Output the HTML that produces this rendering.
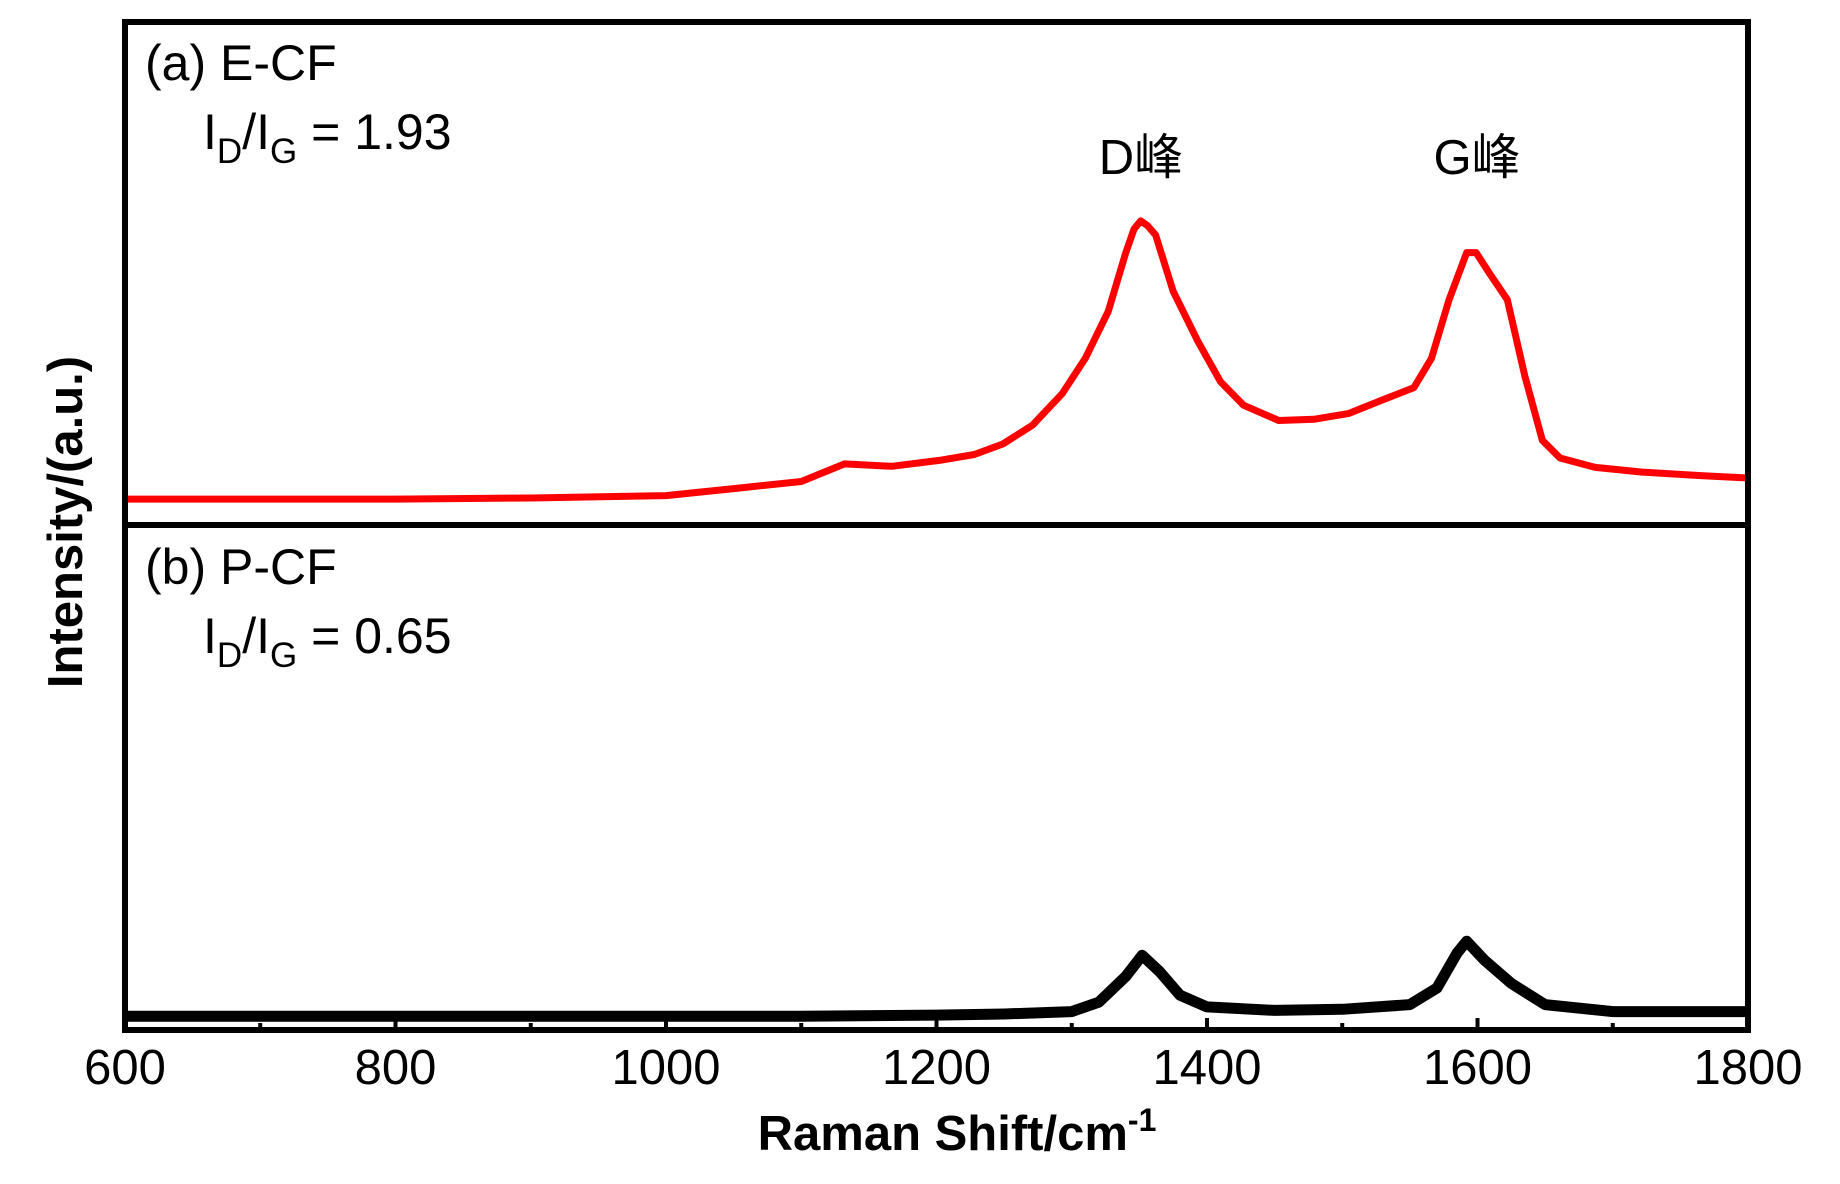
<!DOCTYPE html>
<html><head><meta charset="utf-8"><style>
html,body{margin:0;padding:0;background:#fff}
svg{display:block}
text{font-family:"Liberation Sans","Noto Sans CJK SC",sans-serif;fill:#000}
</style></head><body>
<svg id="chart" width="1840" height="1184" viewBox="0 0 1840 1184" xmlns="http://www.w3.org/2000/svg">
<g id="plot"></g>
<g id="frame"></g>
<text x="145" y="80" font-size="50">(a) E-CF</text>
<text x="203" y="149" font-size="50">I<tspan font-size="35" dy="14">D</tspan><tspan dy="-14">/I</tspan><tspan font-size="35" dy="14">G</tspan><tspan dy="-14"> = 1.93</tspan></text>
<text x="145" y="584" font-size="50">(b) P-CF</text>
<text x="203" y="653" font-size="50">I<tspan font-size="35" dy="14">D</tspan><tspan dy="-14">/I</tspan><tspan font-size="35" dy="14">G</tspan><tspan dy="-14"> = 0.65</tspan></text>
<text x="1141" y="174" font-size="49" text-anchor="middle">D峰</text>
<text x="1477" y="174" font-size="49" text-anchor="middle">G峰</text>
<text x="957" y="1150" font-size="49" font-weight="bold" text-anchor="middle">Raman Shift/cm<tspan font-size="32" dy="-19">-1</tspan></text>
<text transform="translate(82,522) rotate(-90)" font-size="49" font-weight="bold" text-anchor="middle">Intensity/(a.u.)</text>
</svg>
<script>
const ecfShift = [600,700,800,900,1000,1050,1100,1132,1167,1202,1228,1249,1271,1293,1310,1327,1340,1346,1351,1356,1362,1375,1393,1410,1427,1453,1479,1505,1531,1553,1566,1579,1592,1599,1609,1622,1635,1648,1661,1687,1722,1765,1800];
const ecfIntensity = [5,5,5,6,8,14,20,35,33,38,43,52,68,95,125,165,215,235,242,238,230,182,140,105,85,72,73,78,90,100,125,175,215,215,197,175,110,55,40,32,28,25,23];
const pcfShift = [600,700,800,900,1000,1100,1200,1250,1300,1320,1340,1352,1365,1380,1400,1450,1500,1550,1570,1585,1592,1605,1625,1650,1700,1800];
const pcfIntensity = [4,4,4,4,4,4,5,6,8,16,38,56,42,22,12,9,10,14,28,58,68,52,32,14,8,8];
const xTicks = [600,800,1000,1200,1400,1600,1800];
const minorTicks = [700,900,1100,1300,1500,1700];

const L=125,R=1748,T=22,MID=525,B=1030;
const NS="http://www.w3.org/2000/svg";
function xs(w){return L+(w-600)/1200*(R-L);}
function ysA(v){return 505-v*1.174;}
function ysB(v){return 1021-v*1.174;}
const plot=document.getElementById('plot');
const frame=document.getElementById('frame');
function mk(tag,attrs,parent){const e=document.createElementNS(NS,tag);for(const k in attrs)e.setAttribute(k,attrs[k]);parent.appendChild(e);return e;}
function pathOf(xa,ya,ys){return xa.map((w,i)=>(i?'L':'M')+xs(w).toFixed(1)+' '+ys(ya[i]).toFixed(1)).join(' ');}

const pa=mk('path',{d:pathOf(ecfShift,ecfIntensity,ysA),fill:'none',stroke:'#ff0000','stroke-width':7,'stroke-linejoin':'round'},plot);


const pb=mk('path',{d:pathOf(pcfShift,pcfIntensity,ysB),fill:'none',stroke:'#000','stroke-width':11,'stroke-linejoin':'round'},plot);



const box=mk('rect',{x:L,y:T,width:R-L,height:B-T,fill:'none',stroke:'#000','stroke-width':6},frame);


const div=mk('line',{x1:L,x2:R,y1:MID,y2:MID,stroke:'#000','stroke-width':6},frame);



xTicks.forEach(t=>{
  const tk=mk('line',{x1:xs(t),x2:xs(t),y1:B,y2:B-12,stroke:'#000','stroke-width':4},frame);
  
  
  const lb=mk('text',{x:xs(t),y:1084,'font-size':49,'text-anchor':'middle'},frame);
  lb.textContent=t;
  
  
});
minorTicks.forEach(t=>{
  const tk=mk('line',{x1:xs(t),x2:xs(t),y1:B,y2:B-7,stroke:'#000','stroke-width':4},frame);
  
  
});
</script>
</body></html>
